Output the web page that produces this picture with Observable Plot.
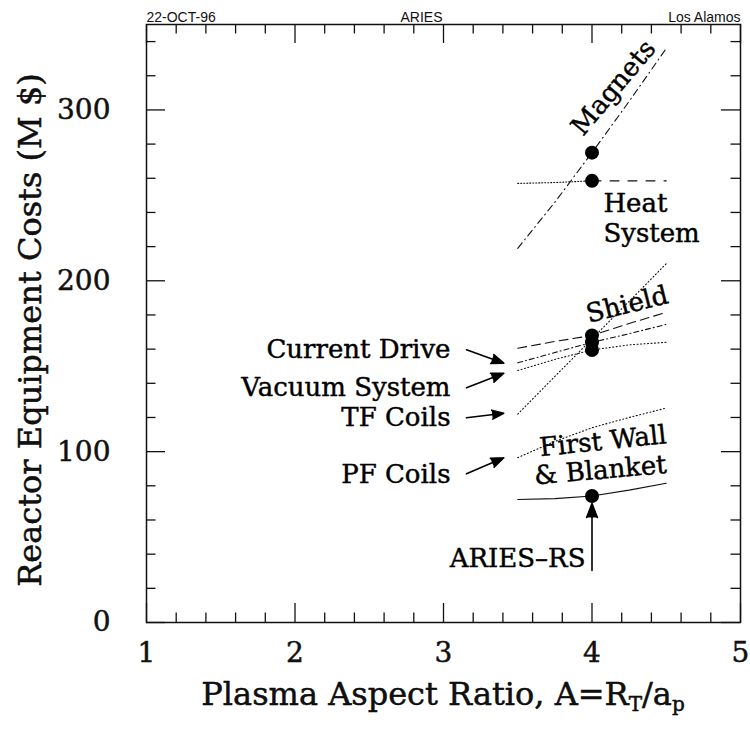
<!DOCTYPE html>
<html>
<head>
<meta charset="utf-8">
<script src="https://cdn.jsdelivr.net/npm/d3@7"></script>
<script src="https://cdn.jsdelivr.net/npm/@observablehq/plot@0.6"></script>
<style>
  body { margin: 0; background: #fff; }
  #chart svg { display: block; }
</style>
</head>
<body>
<div id="chart"></div>
<script>
// Plasma aspect ratio scan around the ARIES-RS design point (A = 4)
const aspect = [3.5, 3.75, 4, 4.25, 4.5];

// Reactor equipment costs, M$
const magnets      = [219, 246, 275, 305, 336];
const heatSystem   = [257, 257.5, 258.5, 258.5, 258.5];
const shield       = [160.5, 164.5, 168, 175, 181.5];
const currentDrive = [152, 158, 164, 169, 174.5];
const vacuumSystem = [147.5, 154, 159.5, 162.5, 164];
const tfCoils      = [122, 144, 166, 188, 210];
const pfCoils      = [96.5, 106, 114, 120, 125.5];
const firstWall    = [72, 72.5, 74, 77.5, 81.5];

// Axis ticks
const xMajor = [1, 2, 3, 4, 5];
const yMajor = [0, 100, 200, 300];
const xMinor = d3.range(1, 5.001, 0.2).filter(v => Math.abs(v - Math.round(v)) > 1e-6);
const yMinor = d3.range(0, 350.001, 20).filter(v => v % 100 !== 0);

const series = [
  {name: "Magnets", values: magnets, dash: "7,4,1,4", marker: true},
  {name: "Heat System", values: heatSystem, dash: null, marker: true},
  {name: "Shield", values: shield, dash: "9,5", marker: true},
  {name: "Current Drive", values: currentDrive, dash: "5,3,1,3", marker: true},
  {name: "Vacuum System", values: vacuumSystem, dash: "1,2.5", marker: true},
  {name: "TF Coils", values: tfCoils, dash: "1,2.5", marker: false},
  {name: "PF Coils", values: pfCoils, dash: "1,2.5", marker: false},
  {name: "First Wall & Blanket", values: firstWall, dash: "none", marker: true}
];

const rows = series.flatMap(s => s.values.map((v, i) => ({name: s.name, x: aspect[i], y: v})));
const designPoint = 4;

// Text annotations placed in data coordinates
const labelsMiddle = [
  {text: "Magnets", x: 4.145, y: 313, rotate: -50},
  {text: "Shield", x: 4.237, y: 186, rotate: -14},
  {text: "First Wall", x: 4.074, y: 106, rotate: -6},
  {text: "& Blanket", x: 4.057, y: 89, rotate: -5}
];
const labelsStart = [
  {text: "Heat", x: 4.077, y: 245},
  {text: "System", x: 4.077, y: 227.5}
];
const labelsEnd = [
  {text: "Current Drive", x: 3.047, y: 159.8},
  {text: "Vacuum System", x: 3.047, y: 137.4},
  {text: "TF Coils", x: 3.047, y: 119.8},
  {text: "PF Coils", x: 3.047, y: 86.6},
  {text: "ARIES\u2013RS", x: 3.956, y: 37.5}
];
const arrows = [
  {x1: 3.155, y1: 159.6, x2: 3.406, y2: 151.8},
  {x1: 3.155, y1: 137.4, x2: 3.406, y2: 145.9},
  {x1: 3.155, y1: 119.8, x2: 3.406, y2: 122.5},
  {x1: 3.155, y1: 87.0, x2: 3.406, y2: 96.4},
  {x1: 4, y1: 30.4, x2: 4, y2: 69.6}
];

const W = 750, H = 729;
const mL = 146, mR = 10, mT = 24, mB = 107;
const fw = W - mL - mR, fh = H - mT - mB;
const serif = "'DejaVu Serif', serif";
const sans = "'Liberation Sans', Arial, sans-serif";
const ink = "#111";
const majorLen = 19, minorLen = 9.5;
// a hairline outline gives the serif text a heavier, typeset weight
const heavy = {stroke: "#000", strokeWidth: 0.45};

const lineMarks = series.filter(s => s.name !== "Heat System").map(s =>
  Plot.line(rows.filter(d => d.name === s.name), {
    x: "x", y: "y", stroke: ink, strokeWidth: 1.1,
    strokeDasharray: s.dash === "none" ? null : s.dash
  })
);
// heat system: dotted below the design point, dashed above it
const heatRows = rows.filter(d => d.name === "Heat System");
lineMarks.push(
  Plot.line(heatRows.filter(d => d.x <= designPoint), {x: "x", y: "y", stroke: ink, strokeWidth: 1.1, strokeDasharray: "1,2"}),
  Plot.line(heatRows.filter(d => d.x >= designPoint), {x: "x", y: "y", stroke: ink, strokeWidth: 1.1, strokeDasharray: "9,9"})
);

const markerNames = new Set(series.filter(s => s.marker).map(s => s.name));

const chart = Plot.plot({
  width: W,
  height: H,
  marginLeft: mL,
  marginRight: mR,
  marginTop: mT,
  marginBottom: mB,
  x: {domain: [1, 5], axis: null},
  y: {domain: [0, 350], axis: null},
  style: {fontFamily: serif, color: ink, background: "#fff"},
  marks: [
    // inward ticks on all four sides
    Plot.tickX(xMinor, {x: d => d, insetTop: fh - minorLen, stroke: ink, strokeWidth: 1.3}),
    Plot.tickX(xMajor, {x: d => d, insetTop: fh - majorLen, stroke: ink, strokeWidth: 1.3}),
    Plot.tickX(xMinor, {x: d => d, insetBottom: fh - minorLen, stroke: ink, strokeWidth: 1.3}),
    Plot.tickX(xMajor, {x: d => d, insetBottom: fh - majorLen, stroke: ink, strokeWidth: 1.3}),
    Plot.tickY(yMinor, {y: d => d, insetRight: fw - minorLen, stroke: ink, strokeWidth: 1.3}),
    Plot.tickY(yMajor, {y: d => d, insetRight: fw - majorLen, stroke: ink, strokeWidth: 1.3}),
    Plot.tickY(yMinor, {y: d => d, insetLeft: fw - minorLen, stroke: ink, strokeWidth: 1.3}),
    Plot.tickY(yMajor, {y: d => d, insetLeft: fw - majorLen, stroke: ink, strokeWidth: 1.3}),
    Plot.frame({stroke: ink, strokeWidth: 1.5}),
    // tick labels
    Plot.text(xMajor, {x: d => d, frameAnchor: "bottom", dy: 39, fontSize: 28, fontFamily: serif, fill: ink, ...heavy}),
    Plot.text(yMajor, {y: d => d, frameAnchor: "left", dx: -36, textAnchor: "end", fontSize: 28, fontFamily: serif, fill: ink, ...heavy}),
    // header
    Plot.text(["22-OCT-96"], {frameAnchor: "top-left", dy: -12, textAnchor: "start", fontSize: 14, fontFamily: sans, fill: ink}),
    Plot.text(["ARIES"], {frameAnchor: "top", dx: -22, dy: -12, fontSize: 14, fontFamily: sans, fill: ink}),
    Plot.text(["Los Alamos"], {frameAnchor: "top-right", dy: -12, textAnchor: "end", fontSize: 14, fontFamily: sans, fill: ink}),
    // cost curves
    ...lineMarks,
    Plot.dot(rows.filter(d => d.x === designPoint && markerNames.has(d.name)), {x: "x", y: "y", r: 7, fill: "#000", stroke: "none"}),
    // annotations
    Plot.arrow(arrows, {x1: "x1", y1: "y1", x2: "x2", y2: "y2", headLength: 14, headAngle: 42, stroke: "#000", fill: "#000", strokeWidth: 1.6}),
    Plot.text(labelsMiddle, {x: "x", y: "y", text: "text", rotate: "rotate", fontSize: 26, fontFamily: serif, fill: "#000", ...heavy}),
    Plot.text(labelsStart, {x: "x", y: "y", text: "text", textAnchor: "start", fontSize: 26, fontFamily: serif, fill: "#000", ...heavy}),
    Plot.text(labelsEnd, {x: "x", y: "y", text: "text", textAnchor: "end", fontSize: 26, fontFamily: serif, fill: "#000", ...heavy})
  ]
});

document.getElementById("chart").appendChild(chart);

// axis titles (the x title needs subscripts)
const svg = d3.select(chart);
svg.append("text")
  .attr("transform", `translate(32,${mT + fh / 2 + 7}) rotate(-90)`)
  .attr("text-anchor", "middle")
  .attr("dominant-baseline", "middle")
  .attr("font-family", serif)
  .attr("font-size", 32)
  .attr("fill", ink)
  .attr("stroke", "#000")
  .attr("stroke-width", 0.45)
  .text("Reactor Equipment Costs (M $)");

const xt = svg.append("text")
  .attr("x", mL + fw / 2)
  .attr("y", 705)
  .attr("text-anchor", "middle")
  .attr("font-family", serif)
  .attr("font-size", 32)
  .attr("fill", ink)
  .attr("stroke", "#000")
  .attr("stroke-width", 0.45);
xt.append("tspan").text("Plasma Aspect Ratio, A=R");
xt.append("tspan").attr("font-size", 20).attr("dy", 6).text("T");
xt.append("tspan").attr("dy", -6).text("/a");
xt.append("tspan").attr("font-size", 20).attr("dy", 6).text("p");
</script>
</body>
</html>
